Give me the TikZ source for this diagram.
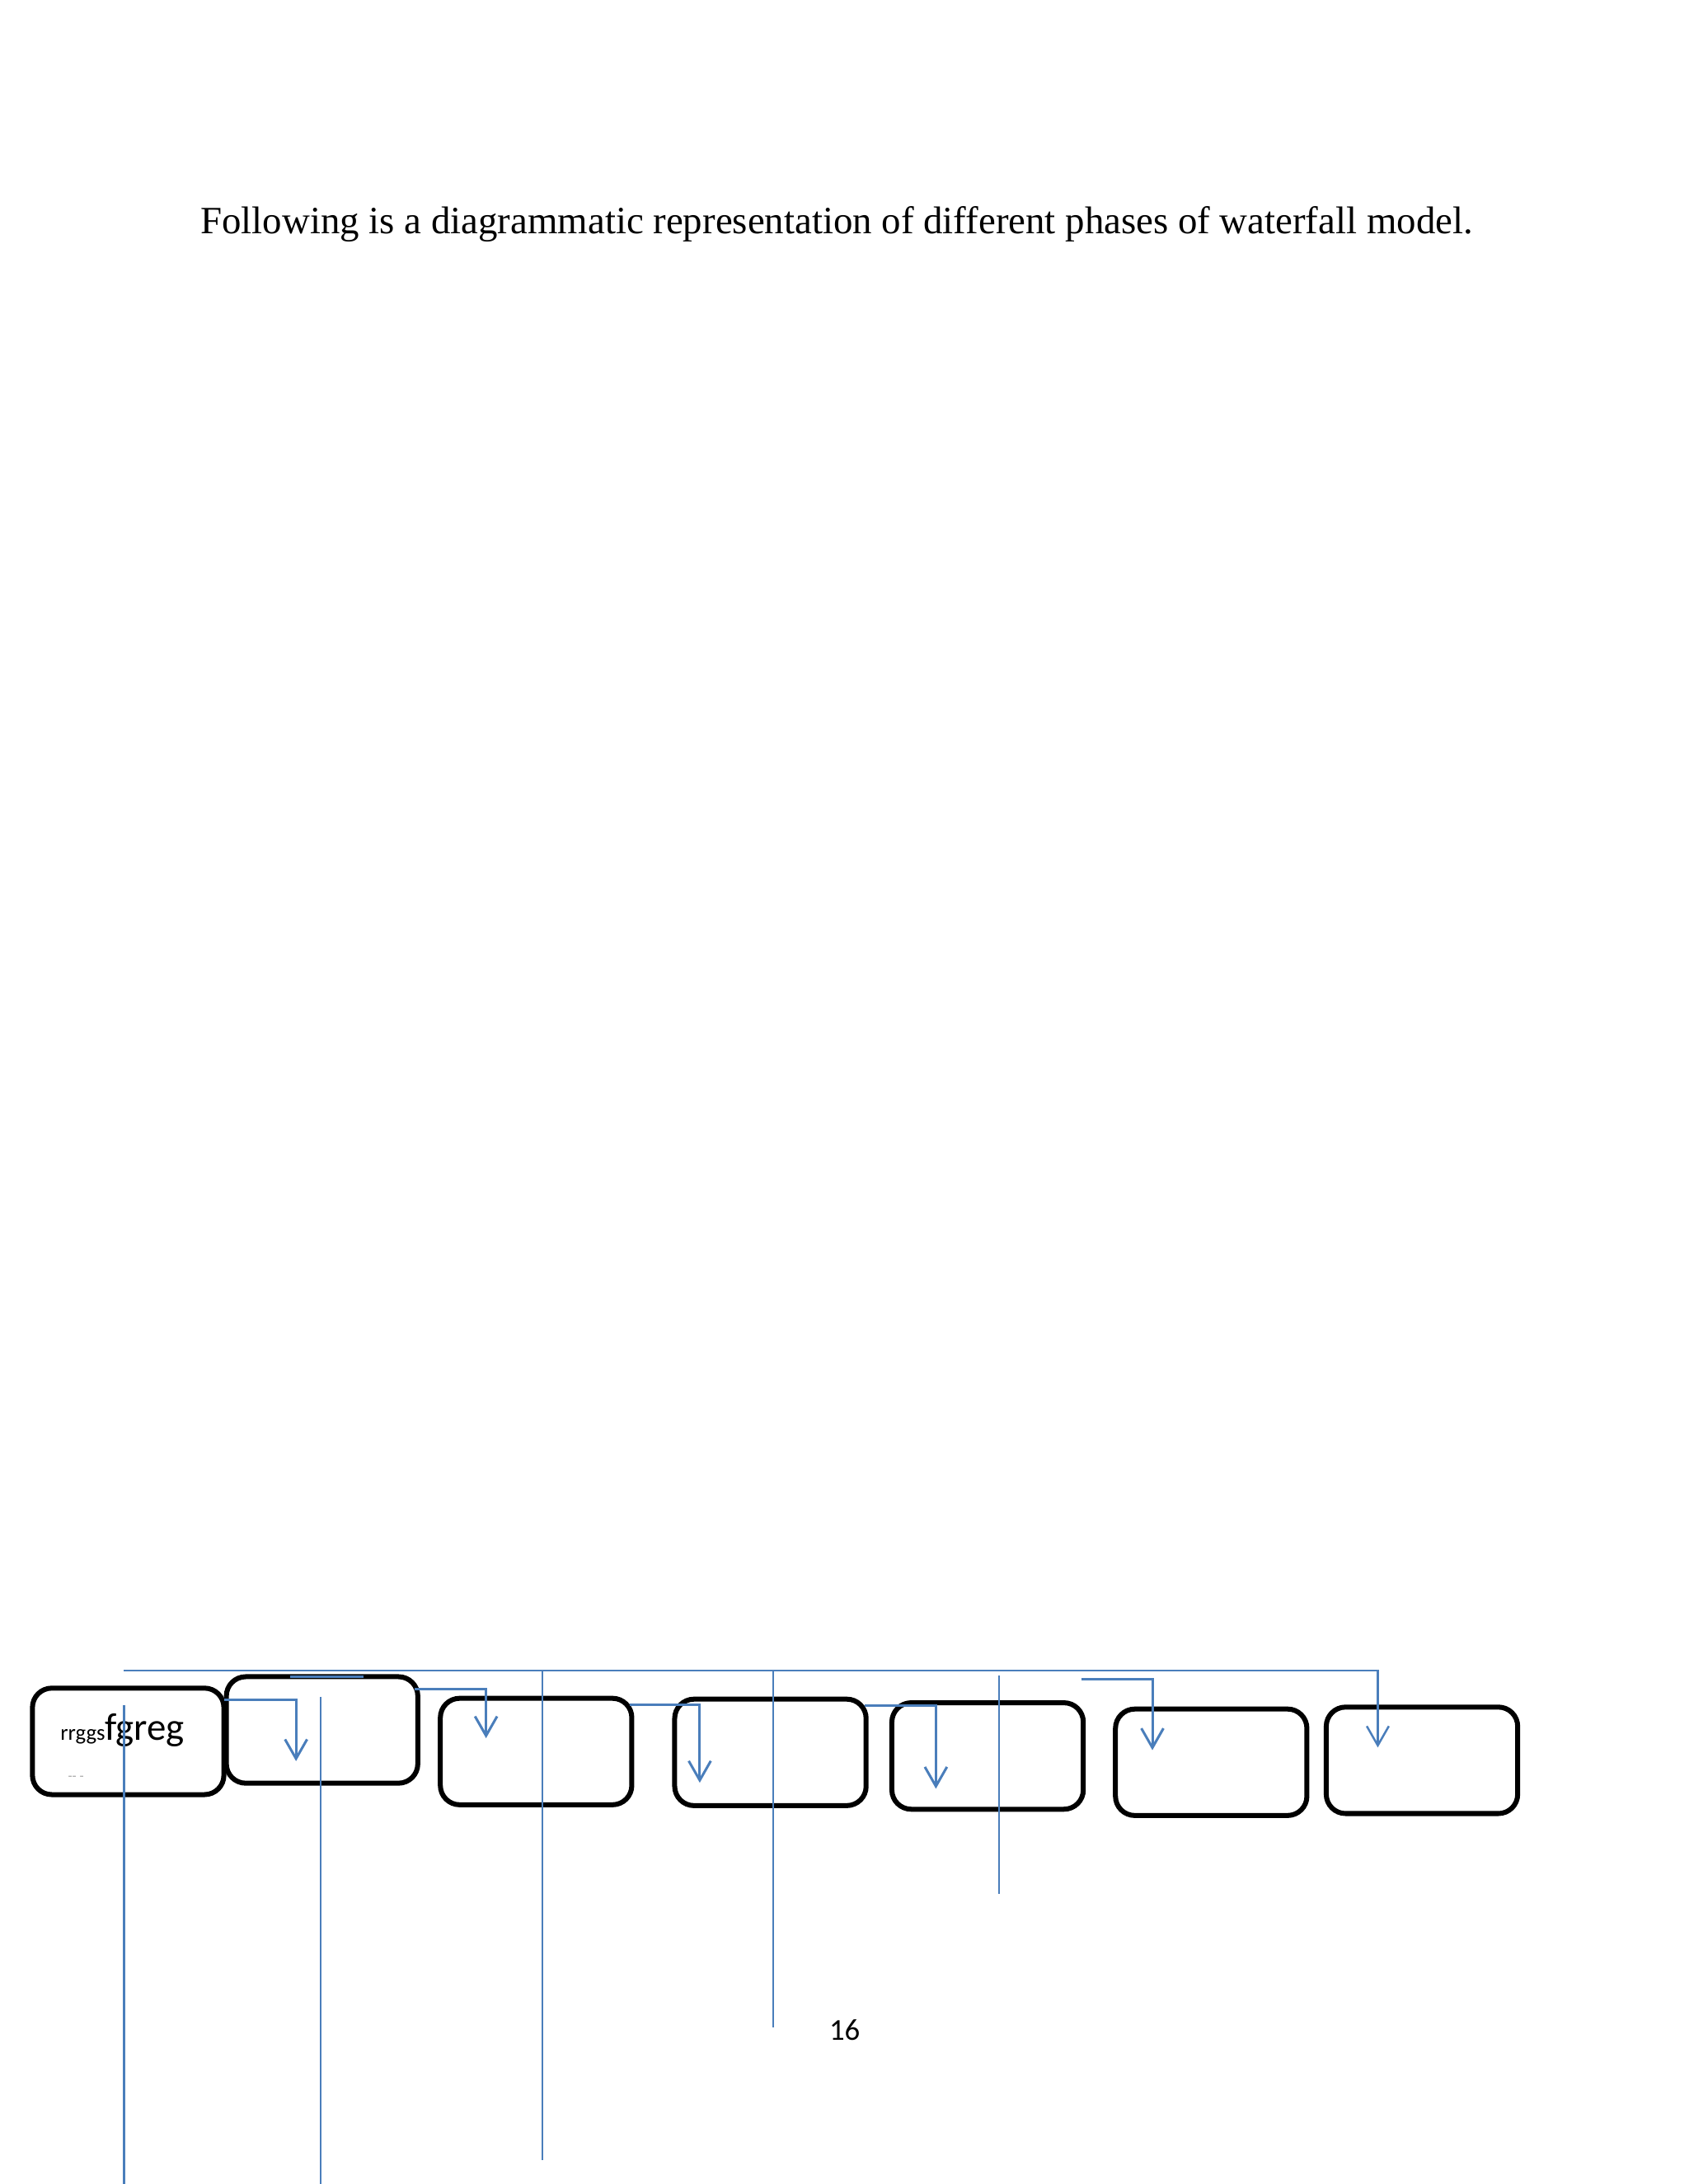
\documentclass[tikz,border=0pt]{standalone}
\usepackage{fontspec}
\setmainfont{Liberation Serif}
\newfontfamily\calibri{Carlito}
\usetikzlibrary{arrows.meta}

\definecolor{lineblue}{RGB}{74,126,187}
\tikzstyle{phase box}=[draw, line width=1.8pt, rounded corners=7pt, minimum width=69.4pt, minimum height=38.6pt, inner sep=0pt]
\tikzstyle{guide}=[draw=lineblue, line width=0.7pt]
\tikzstyle{flow}=[draw=lineblue, line width=0.9pt, -{Straight Barb[length=7pt,width=8pt]}]

\begin{document}
\begin{tikzpicture}[x=0.505pt, y=-0.505pt]
	\useasboundingbox (0,0) rectangle (1212,1568);

	\node [anchor=base west, inner sep=0pt, font=\fontsize{14}{16}\selectfont] (title) at (143.6,167.7) {Following is a diagrammatic representation of different phases of waterfall model.};

	\node [phase box] (p1) at (92,1250.2) {};
	\node [phase box] (p2) at (231.2,1242) {};
	\node [phase box] (p3) at (384.8,1257.5) {};
	\node [phase box] (p4) at (553,1258.1) {};
	\node [phase box] (p5) at (708.9,1260.7) {};
	\node [phase box] (p6) at (869.4,1265.2) {};
	\node [phase box] (p7) at (1020.7,1263.8) {};

	\node [anchor=base west, inner sep=0pt] (lbl) at (43,1249.6) {\calibri\fontsize{8}{9}\selectfont rrggs\fontsize{14}{16}\selectfont fgreg};
	\node [text=black!35, inner sep=0pt, font={\calibri\fontsize{5}{6}\selectfont}] (dash) at (54.5,1276.5) {-- -};

	% start and end points of the blue lines
	\coordinate (top) at (89,1199.5);
	\coordinate (s1) at (160.7,1220.2);
	\coordinate (t1) at (212.5,1264.4);
	\coordinate (s2) at (297.7,1212.5);
	\coordinate (t2) at (348.9,1247.9);
	\coordinate (s3) at (452,1224);
	\coordinate (t3) at (502.3,1279.9);
	\coordinate (s4) at (620.7,1224.5);
	\coordinate (t4) at (671.8,1284.2);
	\coordinate (s5) at (776.1,1205.6);
	\coordinate (t5) at (827.2,1256.5);
	\coordinate (t6) at (989,1254.6);

	\draw [flow, line width=0.75pt] (top) -| (t6);
	\draw [flow] (s1) -| (t1);
	\draw [flow] (s2) -| (t2);
	\draw [flow] (s3) -| (t3);
	\draw [flow] (s4) -| (t4);
	\draw [flow] (s5) -| (t5);

	\draw [guide, line width=0.9pt] (208,1203.6) -- (261,1203.6);
	\draw [guide] (89,1224.5) -- (89,1568);
	\draw [guide] (230,1218) -- (230,1568);
	\draw [guide] (389.5,1199.5) -- (389.5,1551);
	\draw [guide] (555.2,1199.5) -- (555.2,1455.4);
	\draw [guide] (717.3,1203.2) -- (717.3,1359.5);

	\node [anchor=base, font={\calibri\fontsize{11}{13}\selectfont}] (pagenum) at (606.3,1465) {16};
\end{tikzpicture}
\end{document}
